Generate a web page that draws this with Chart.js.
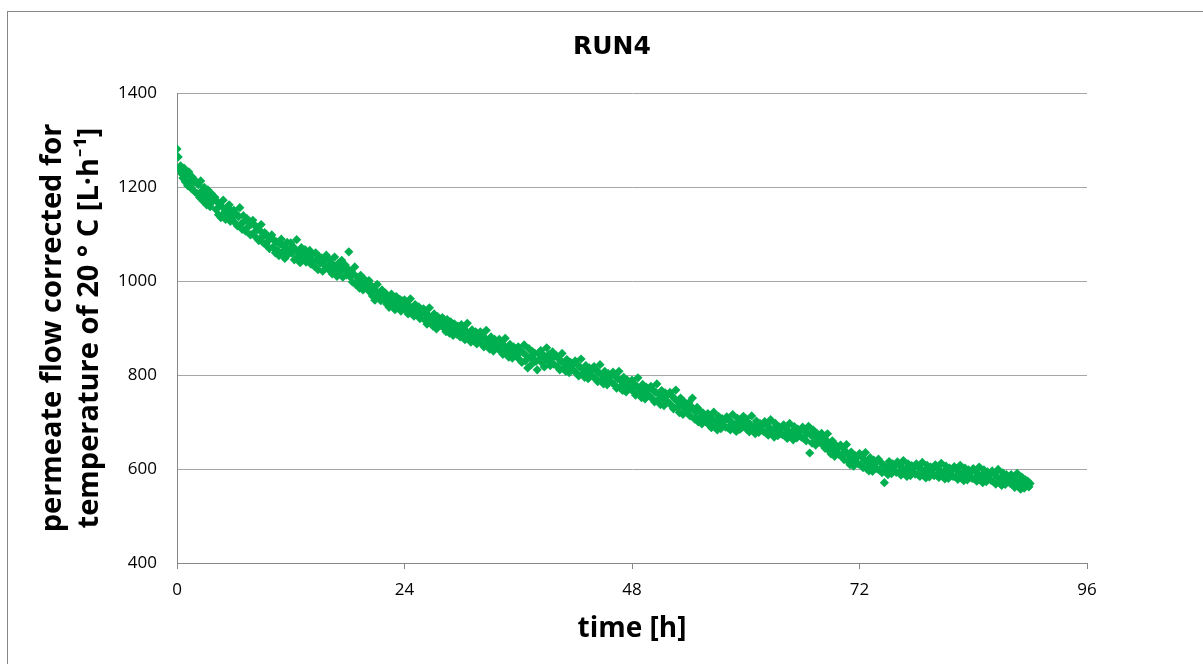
<canvas id="myChart" width="1203" height="664"></canvas>
<style>
	body{ margin:0; background:#fff; }
	canvas{ display:block; }
</style>
<script src="https://cdn.jsdelivr.net/npm/chart.js"></script>
<script>
// sampling: one reading every 0.125 h starting at 0 h
const startHour = 0
const stepHour = 0.125

// permeate flow corrected for 20 °C [L·h-1] (16 readings = 2 h per row)
const flow = [
	1281, 1264, 1237, 1245, 1228, 1219, 1240, 1211, 1226, 1203, 1232, 1214, 1197, 1221, 1208, 1190,
	1212, 1186, 1205, 1178, 1213, 1192, 1170, 1199, 1183, 1162, 1194, 1175, 1158, 1186, 1169, 1177,
	1178, 1152, 1169, 1141, 1163, 1135, 1158, 1172, 1146, 1131, 1155, 1139, 1162, 1127, 1149, 1136,
	1151, 1124, 1143, 1117, 1137, 1156, 1121, 1110, 1139, 1128, 1106, 1133, 1115, 1125, 1098, 1121,
	1129, 1103, 1118, 1092, 1113, 1086, 1107, 1120, 1094, 1081, 1103, 1077, 1096, 1085, 1069, 1091,
	1098, 1072, 1087, 1060, 1083, 1065, 1054, 1079, 1089, 1061, 1074, 1048, 1070, 1082, 1057, 1066,
	1081, 1059, 1073, 1045, 1066, 1088, 1052, 1063, 1039, 1071, 1055, 1047, 1067, 1040, 1058, 1049,
	1065, 1036, 1056, 1043, 1031, 1060, 1045, 1024, 1052, 1038, 1049, 1021, 1044, 1033, 1055, 1028,
	1047, 1022, 1039, 1015, 1033, 1051, 1026, 1010, 1037, 1019, 1030, 1044, 1008, 1025, 1034, 1013,
	1026, 1062, 1009, 1021, 998, 1015, 1030, 992, 1008, 1001, 985, 1012, 996, 981, 1004, 989,
	997, 982, 1001, 976, 990, 968, 985, 959, 979, 993, 965, 973, 958, 981, 962, 970,
	974, 951, 966, 944, 960, 972, 948, 955, 939, 967, 952, 945, 961, 936, 958, 947,
	960, 939, 953, 930, 947, 962, 934, 942, 925, 950, 936, 928, 945, 920, 939, 931,
	941, 917, 933, 908, 926, 943, 913, 922, 904, 930, 917, 898, 924, 910, 919, 905,
	922, 901, 914, 892, 918, 905, 889, 913, 896, 884, 909, 899, 887, 904, 893, 881,
	907, 883, 899, 875, 893, 910, 878, 889, 870, 896, 883, 874, 892, 866, 887, 879,
	892, 867, 884, 860, 878, 895, 864, 873, 855, 881, 868, 851, 876, 862, 870, 856,
	876, 851, 868, 844, 862, 878, 847, 856, 838, 865, 852, 836, 860, 845, 855, 841,
	860, 833, 852, 827, 848, 864, 830, 841, 815, 856, 838, 822, 850, 833, 846, 829,
	811, 846, 833, 852, 826, 843, 817, 838, 858, 829, 844, 820, 836, 849, 823, 840,
	842, 818, 835, 811, 829, 846, 814, 825, 808, 833, 820, 805, 827, 814, 823, 809,
	830, 805, 822, 798, 817, 834, 802, 812, 795, 820, 808, 792, 815, 801, 811, 797,
	818, 793, 810, 786, 805, 822, 789, 799, 781, 808, 795, 779, 803, 788, 798, 784,
	806, 780, 797, 772, 792, 808, 775, 787, 767, 795, 781, 764, 789, 774, 785, 770,
	789, 765, 781, 757, 776, 794, 761, 771, 752, 780, 766, 749, 774, 758, 769, 755,
	776, 750, 768, 743, 763, 781, 747, 758, 737, 767, 752, 735, 762, 745, 757, 741,
	763, 736, 755, 728, 749, 768, 731, 742, 720, 751, 735, 716, 743, 727, 738, 722,
	741, 713, 733, 751, 727, 706, 720, 731, 700, 725, 711, 696, 719, 705, 714, 699,
	718, 694, 710, 688, 705, 721, 691, 700, 683, 712, 697, 686, 707, 692, 703, 689,
	711, 688, 704, 683, 699, 716, 686, 695, 680, 708, 693, 684, 703, 689, 712, 694,
	707, 684, 699, 679, 694, 713, 682, 691, 675, 702, 688, 678, 697, 683, 693, 680,
	701, 677, 694, 672, 688, 705, 675, 684, 668, 697, 681, 671, 690, 676, 686, 673,
	694, 671, 686, 665, 681, 697, 669, 678, 662, 690, 675, 666, 685, 671, 681, 668,
	689, 665, 681, 660, 676, 691, 634, 672, 655, 683, 668, 651, 676, 660, 671, 656,
	676, 651, 667, 644, 661, 675, 640, 652, 632, 660, 645, 627, 651, 636, 646, 630,
	651, 627, 644, 620, 638, 652, 617, 630, 609, 636, 622, 606, 629, 614, 625, 611,
	633, 609, 626, 603, 620, 635, 601, 613, 596, 624, 609, 595, 619, 604, 614, 600,
	621, 598, 614, 592, 609, 571, 595, 604, 588, 616, 601, 590, 611, 597, 606, 593,
	615, 593, 608, 587, 603, 618, 590, 599, 584, 611, 596, 586, 607, 592, 602, 589,
	611, 589, 604, 584, 600, 614, 587, 596, 581, 608, 593, 583, 604, 590, 599, 586,
	609, 587, 602, 582, 597, 612, 584, 594, 579, 606, 591, 580, 602, 587, 597, 584,
	605, 583, 598, 578, 594, 608, 581, 590, 575, 602, 587, 577, 598, 583, 593, 580,
	601, 579, 594, 574, 590, 604, 577, 586, 571, 598, 583, 573, 594, 579, 589, 576,
	596, 573, 589, 568, 584, 599, 571, 580, 565, 592, 577, 567, 588, 573, 583, 570,
	588, 566, 581, 561, 576, 591, 563, 572, 557, 583, 569, 559, 577, 564, 574, 562,
	569
]

const xTicks = [0, 24, 48, 72, 96]
const yTicks = [400, 600, 800, 1000, 1200, 1400]

const chartTitle = 'RUN4'
const xTitle = 'time [h]'
const yTitle = ['permeate flow corrected for', 'temperature of 20 ° C [L·h⁻¹]']

const points = flow.map((v, i) => ({x: startHour + i * stepHour, y: v}))

const FONT = '"Open Sans", Lato, sans-serif'

// white background, thin grey frame (runs off the right and bottom edges) and the chart title
const framePlugin = {
	id: 'frame',
	beforeDraw(chart){
		const c = chart.ctx
		c.save()
		c.fillStyle = '#fff'
		c.fillRect(0, 0, chart.width, chart.height)
		c.strokeStyle = '#868686'
		c.lineWidth = 1
		c.strokeRect(7.5, 11.5, chart.width + 20, chart.height + 20)
		c.restore()
	},
	afterDraw(chart){
		const c = chart.ctx
		c.save()
		c.fillStyle = '#000'
		c.font = 'bold 25px "DejaVu Sans", sans-serif'
		c.textAlign = 'center'
		c.textBaseline = 'middle'
		c.fillText(chartTitle, 612, 47)
		c.restore()
	}
}

const config = {
	type: 'scatter',
	data: {
		datasets: [{
			label: chartTitle,
			data: points,
			pointStyle: 'rectRot',
			pointRadius: 4.6,
			pointHoverRadius: 4.6,
			backgroundColor: '#00b050',
			borderColor: '#00b050',
			borderWidth: 0
		}]
	},
	options: {
		responsive: false,
		animation: false,
		layout: { padding: { left: 0, right: 116, top: 93, bottom: 0 } },
		plugins: {
			legend: { display: false },
			tooltip: { enabled: false },
			title: { display: false }
		},
		scales: {
			x: {
				type: 'linear',
				min: 0,
				max: 96,
				afterBuildTicks(scale){ scale.ticks = xTicks.map(v => ({value: v})) },
				afterFit(scale){ scale.height = 101 },
				grid: { drawOnChartArea: false, drawTicks: true, tickLength: 6, color: '#868686' },
				border: { color: '#868686', width: 1 },
				ticks: { color: '#000', padding: 11, font: { family: FONT, size: 17 }, callback: v => String(v) },
				title: {
					display: true,
					text: xTitle,
					color: '#000',
					font: { family: FONT, size: 28, weight: 'bold', lineHeight: 1.2 },
					padding: { top: 0, bottom: 18 }
				}
			},
			y: {
				min: 400,
				max: 1400,
				afterBuildTicks(scale){ scale.ticks = yTicks.map(v => ({value: v})) },
				afterFit(scale){ scale.width = 177 },
				grid: { color: '#a6a6a6', drawTicks: false, lineWidth: 1 },
				border: { color: '#868686', width: 1 },
				ticks: { color: '#000', padding: 20, font: { family: FONT, size: 17 }, callback: v => String(v) },
				title: {
					display: true,
					text: yTitle,
					color: '#000',
					font: { family: FONT, size: 29, weight: 'bold', lineHeight: 1.28 },
					padding: { top: 34, bottom: 0 }
				}
			}
		}
	},
	plugins: [framePlugin]
}

const myChart = new Chart(document.getElementById('myChart'), config)
</script>
